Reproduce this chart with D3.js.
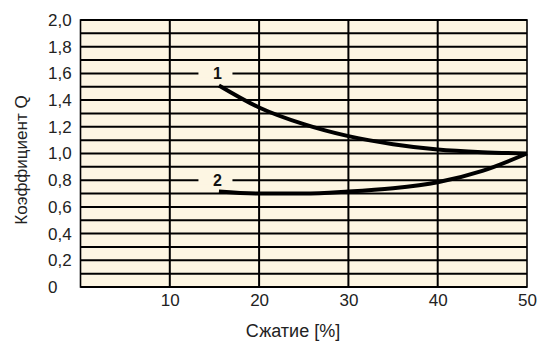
<!DOCTYPE html>
<html><head><meta charset="utf-8">
<script src="https://cdn.jsdelivr.net/npm/d3@7"></script>
<style>body{margin:0;background:#fff}svg{display:block;font-family:"Liberation Sans",Arial,sans-serif}</style>
</head><body><svg id="c" width="539" height="342"></svg>
<script>
const xTicks = [10, 20, 30, 40, 50];
const yTicks = [0, 0.2, 0.4, 0.6, 0.8, 1.0, 1.2, 1.4, 1.6, 1.8, 2.0];
const gridY = d3.range(0, 21).map(i => i / 10);
const curve1X = [15.5, 20, 25, 30, 35, 40, 45, 50];
const curve1Y = [1.51, 1.345, 1.22, 1.13, 1.07, 1.03, 1.01, 1.0];
const curve2X = [15.5, 20, 25, 30, 35, 40, 45, 50];
const curve2Y = [0.715, 0.70, 0.70, 0.715, 0.74, 0.785, 0.87, 1.0];
const labels = [{t: "1", x: 15, y: 1.6}, {t: "2", x: 15, y: 0.8}];

const svg = d3.select("#c");
const x = d3.scaleLinear().domain([0, 50]).range([80.5, 527]);
const y = d3.scaleLinear().domain([0, 2]).range([287, 20]);

svg.append("rect").attr("x", x(0)).attr("y", y(2)).attr("width", x(50) - x(0)).attr("height", y(0) - y(2)).attr("fill", "#fdf6e3");

svg.append("g").selectAll("line").data(gridY).join("line")
  .attr("x1", x(0)).attr("x2", x(50)).attr("y1", d => y(d)).attr("y2", d => y(d))
  .attr("stroke", "#000").attr("stroke-width", 2);
svg.append("g").selectAll("line").data(xTicks.slice(0, -1)).join("line")
  .attr("x1", d => x(d)).attr("x2", d => x(d)).attr("y1", y(0)).attr("y2", y(2))
  .attr("stroke", "#000").attr("stroke-width", 2);
svg.append("rect").attr("x", x(0)).attr("y", y(2)).attr("width", x(50) - x(0)).attr("height", y(0) - y(2))
  .attr("fill", "none").attr("stroke", "#000").attr("stroke-width", 1.6);

labels.forEach(l => {
  svg.append("rect").attr("x", x(l.x) - 16).attr("y", y(l.y) - 4).attr("width", 34).attr("height", 8).attr("fill", "#fdf6e3");
  svg.append("text").attr("x", x(l.x) + 3).attr("y", y(l.y) + 6).attr("text-anchor", "middle")
    .attr("font-size", 16).attr("font-weight", "bold").attr("fill", "#111").text(l.t);
});

const line = d3.line().x(d => x(d[0])).y(d => y(d[1])).curve(d3.curveMonotoneX);
[[curve1X, curve1Y], [curve2X, curve2Y]].forEach(([xs, ys]) => {
  svg.append("path").attr("d", line(xs.map((v, i) => [v, ys[i]])))
    .attr("fill", "none").attr("stroke", "#000").attr("stroke-width", 4);
});

const xAxis = d3.axisBottom(x).tickValues(xTicks).tickSize(0).tickPadding(7);
svg.append("g").attr("transform", `translate(0,${y(0)})`).call(xAxis)
  .call(g => g.select(".domain").remove())
  .selectAll("text").attr("font-size", 17).attr("fill", "#222").attr("font-family", "Liberation Sans, Arial, sans-serif");
const yAxis = d3.axisLeft(y).tickValues(yTicks).tickSize(0).tickPadding(6)
  .tickFormat(d => d === 0 ? "0" : d3.format(".1f")(d).replace(".", ","));
svg.append("g").attr("transform", `translate(${x(0)},0)`).call(yAxis)
  .call(g => g.select(".domain").remove())
  .selectAll("text").attr("font-size", 17).attr("fill", "#222").attr("font-family", "Liberation Sans, Arial, sans-serif")
  .attr("text-anchor", "start").attr("x", 48 - x(0));

svg.append("text").attr("x", 293).attr("y", 337).attr("text-anchor", "middle").attr("font-size", 18).attr("fill", "#222").text("Сжатие [%]");
svg.append("text").attr("transform", "translate(27,160) rotate(-90)").attr("text-anchor", "middle").attr("font-size", 17).attr("fill", "#222").text("Коэффициент Q");
</script></body></html>
